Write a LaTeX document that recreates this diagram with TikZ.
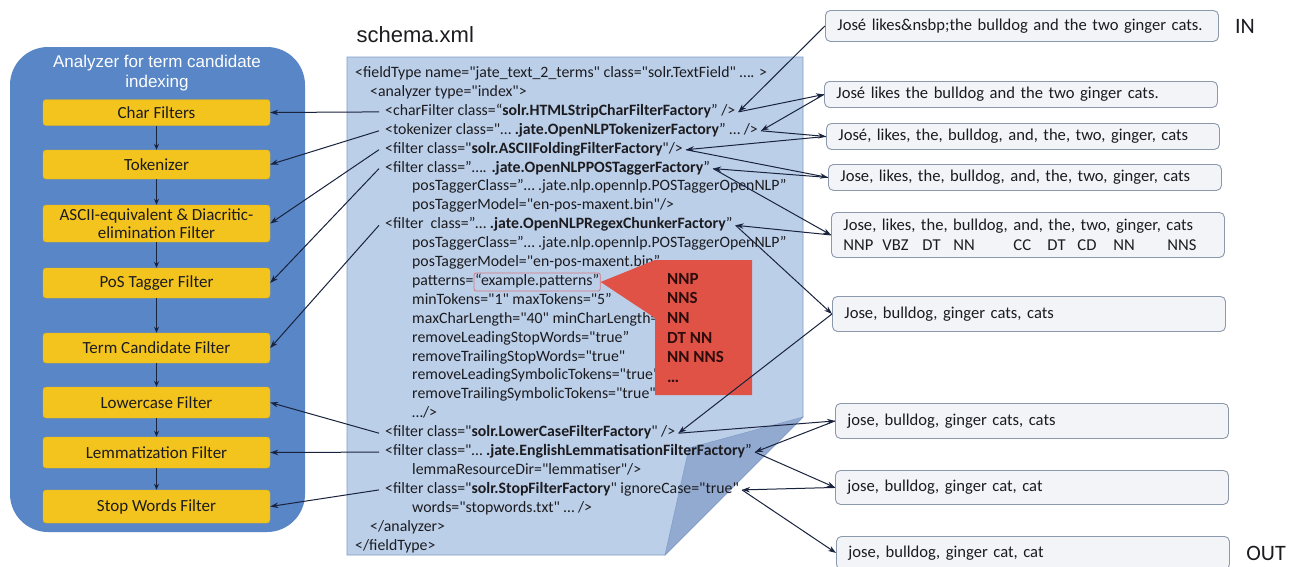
\documentclass[tikz,border=0pt]{standalone}
\usepackage{fontspec}
\setmainfont{Carlito}[Ligatures=TeXOff]
\newfontfamily\arialfont{Liberation Sans}
\usetikzlibrary{arrows.meta}
\definecolor{panelblue}{RGB}{88,134,198}
\definecolor{boxyellow}{RGB}{244,196,30}
\definecolor{boxedge}{RGB}{222,176,20}
\definecolor{pagefill}{RGB}{188,207,233}
\definecolor{pageline}{RGB}{128,156,198}
\definecolor{foldfill}{RGB}{146,170,208}
\definecolor{outfill}{RGB}{243,244,247}
\definecolor{outline}{RGB}{140,152,172}
\definecolor{calloutred}{RGB}{225,82,70}
\definecolor{pinkline}{RGB}{214,118,128}
\definecolor{arrowcol}{RGB}{25,35,62}
\definecolor{txtdark}{RGB}{28,28,32}
\definecolor{pattxt}{RGB}{45,12,12}
\begin{document}
\begin{tikzpicture}[x=1pt,y=-1pt,
  stage/.style={draw=boxedge, line width=0.4pt, fill=boxyellow, rounded corners=3pt,
    minimum width=227pt, align=center, text=txtdark,
    font=\fontsize{17}{18}\selectfont, inner sep=1pt},
  xml/.style={anchor=base west, inner xsep=3pt, inner ysep=0pt, text=txtdark,
    font=\fontsize{15.8}{17}\selectfont, execute at begin node=\strut},
  outbox/.style={draw=outline, line width=0.9pt, fill=outfill, rounded corners=5pt,
    anchor=north west, align=left, text width=369pt, inner xsep=12pt, inner ysep=2pt,
    text=txtdark, font=\fontsize{16.6}{20.5}\selectfont},
  conn/.style={draw=arrowcol, line width=1pt, -{Stealth[length=8pt,width=5.5pt]}},
  downarr/.style={draw=arrowcol, line width=1.2pt, -{Stealth[length=6pt,width=5pt]}},
  pattag/.style={font=\fontsize{17}{19}\selectfont\bfseries, text=pattxt, anchor=base west, inner sep=0pt},
  bigword/.style={font=\fontsize{22}{24}\selectfont, text=txtdark}
]
\useasboundingbox (0,0) rectangle (1296,566);
\fill[white] (0,0) rectangle (1296,566);

% ---------- left panel ----------
\fill[panelblue, rounded corners=38pt] (10,47) rectangle (305,532);
\node[font=\arialfont\fontsize{17}{20}\selectfont, text=white, align=center] (ptitle) at (157,73) {Analyzer for term candidate\\indexing};

\node[stage, minimum height=26pt] (cf)   at (156.5,112.5) {Char Filters};
\node[stage, minimum height=29pt] (tok)  at (156.5,164.5) {Tokenizer};
\node[stage, minimum height=37pt] (asc)  at (156.5,223.5) {ASCII-equivalent \& Diacritic-\\elimination Filter};
\node[stage, minimum height=30pt] (pos)  at (156.5,283)   {PoS Tagger Filter};
\node[stage, minimum height=30pt] (term) at (156.5,348)   {Term Candidate Filter};
\node[stage, minimum height=31pt] (low)  at (156.5,402.5) {Lowercase Filter};
\node[stage, minimum height=31pt] (lem)  at (156.5,452.5) {Lemmatization Filter};
\node[stage, minimum height=33pt] (stop) at (156.5,506.5) {Stop Words Filter};

\draw[downarr] (cf) -- (tok);
\draw[downarr] (tok) -- (asc);
\draw[downarr] (asc) -- (pos);
\draw[downarr] (pos) -- (term);
\draw[downarr] (term) -- (low);
\draw[downarr] (low) -- (lem);
\draw[downarr] (lem) -- (stop);

% ---------- schema page ----------
\node[font=\arialfont\fontsize{22}{24}\selectfont, text=txtdark, anchor=west] (schema) at (353,35) {schema.xml};
\filldraw[fill=pagefill, draw=pageline, line width=0.8pt] (347,57) -- (803,57) -- (803,417) -- (665,555) -- (347,555) -- cycle;
\filldraw[fill=foldfill, draw=pageline, line width=0.5pt] (803,417) -- (689,448) -- (665,555) -- cycle;

\node[xml] (l1)  at (352,77.5)  {<fieldType name="jate\_text\_2\_terms" class="solr.TextField" …. >};
\node[xml] (l2)  at (367,96.4)  {<analyzer type="index">};
\node[xml] (l3)  at (382,115.3) {<charFilter class=“\textbf{solr.HTMLStripCharFilterFactory}” />};
\node[xml] (l4)  at (382,134.2) {<tokenizer class="… \textbf{.jate.OpenNLPTokenizerFactory}” … />};
\node[xml] (l5)  at (382,153.1) {<filter class="\textbf{solr.ASCIIFoldingFilterFactory}"/>};
\node[xml] (l6)  at (382,172.0) {<filter class=”…. \textbf{.jate.OpenNLPPOSTaggerFactory}”};
\node[xml] (l7)  at (409,190.9) {posTaggerClass=”… .jate.nlp.opennlp.POSTaggerOpenNLP”};
\node[xml] (l8)  at (409,209.8) {posTaggerModel="en-pos-maxent.bin"/>};
\node[xml] (l9)  at (382,228.7) {<filter\ \ class=”… \textbf{.jate.OpenNLPRegexChunkerFactory}”};
\node[xml] (l10) at (409,247.6) {posTaggerClass=”… .jate.nlp.opennlp.POSTaggerOpenNLP”};
\node[xml] (l11) at (409,266.5) {posTaggerModel="en-pos-maxent.bin”};
\node[xml] (l12) at (409,285.4) {patterns=};
\node[xml, draw=pinkline, line width=0.8pt, rounded corners=2pt, inner xsep=1pt, inner ysep=0.5pt] (pat) at ([xshift=-3pt]l12.base east) {“example.patterns”};
\node[xml] (l13) at (409,304.3) {minTokens="1" maxTokens="5”};
\node[xml] (l14) at (409,323.2) {maxCharLength="40" minCharLength=};
\node[xml] (l15) at (409,342.1) {removeLeadingStopWords="true”};
\node[xml] (l16) at (409,361.0) {removeTrailingStopWords="true"};
\node[xml] (l17) at (409,379.9) {removeLeadingSymbolicTokens="true"};
\node[xml] (l18) at (409,398.8) {removeTrailingSymbolicTokens="true"};
\node[xml] (l19) at (409,417.7) {…/>};
\node[xml] (l20) at (382,436.6) {<filter class="\textbf{solr.LowerCaseFilterFactory}" />};
\node[xml] (l21) at (382,455.5) {<filter class="… \textbf{.jate.EnglishLemmatisationFilterFactory}”};
\node[xml] (l22) at (409,474.4) {lemmaResourceDir="lemmatiser"/>};
\node[xml] (l23) at (382,493.3) {<filter class="\textbf{solr.StopFilterFactory}" ignoreCase="true"};
\node[xml] (l24) at (409,512.2) {words="stopwords.txt" … />};
\node[xml] (l25) at (367,531.1) {</analyzer>};
\node[xml] (l26) at (352,550.0) {</fieldType>};

% ---------- callout ----------
\fill[calloutred] (655,260) -- (752,260) -- (752,395) -- (655,395) -- (655,318) -- (pat.east) -- cycle;
\node[pattag] (p1) at (667,284) {NNP};
\node[pattag] (p2) at (667,303) {NNS};
\node[pattag] (p3) at (667,323) {NN};
\node[pattag] (p4) at (667,343) {DT NN};
\node[pattag] (p5) at (667,362) {NN NNS};
\node[pattag] (p6) at (667,382) {…};

% ---------- right boxes ----------
\node[outbox, minimum height=31pt] (b1) at (825,10)  {José likes\&nsbp;the bulldog and the two ginger cats.};
\node[outbox, minimum height=26pt] (b2) at (824,81)  {José likes the bulldog and the two ginger cats.};
\node[outbox, minimum height=26pt] (b3) at (826,123) {José, likes, the, bulldog, and, the, two, ginger, cats};
\node[outbox, minimum height=26pt] (b4) at (828,164) {Jose, likes, the, bulldog, and, the, two, ginger, cats};
\node[outbox, minimum height=45pt] (b5) at (831,212) {Jose, likes, the, bulldog, and, the, two, ginger, cats\\
  \makebox[39pt][l]{NNP}\makebox[40pt][l]{VBZ}\makebox[31pt][l]{DT}\makebox[60pt][l]{NN}\makebox[34pt][l]{CC}\makebox[30pt][l]{DT}\makebox[36pt][l]{CD}\makebox[54pt][l]{NN}NNS};
\node[outbox, minimum height=35pt] (b6) at (832,296) {Jose, bulldog, ginger cats, cats};
\node[outbox, minimum height=35pt] (b7) at (835,403) {jose, bulldog, ginger cats, cats};
\node[outbox, minimum height=34pt] (b8) at (835,470) {jose, bulldog, ginger cat, cat};
\node[outbox, minimum height=33pt] (b9) at (836,536) {jose, bulldog, ginger cat, cat};

\node[bigword] (inlab)  at (1245,26)  {IN};
\node[bigword] (outlab) at (1266,553) {OUT};

% ---------- connectors: XML -> stages ----------
\draw[conn] ([xshift=-3pt]l3.west)  -- (cf.east);
\draw[conn] ([xshift=-3pt]l4.west)  -- (tok.east);
\draw[conn] ([xshift=-3pt]l5.west)  -- (asc.east);
\draw[conn] ([xshift=-3pt]l6.west)  -- (pos.east);
\draw[conn] ([xshift=-3pt]l9.west)  -- (term.east);
\draw[conn] ([xshift=-3pt]l20.west) -- (low.east);
\draw[conn] ([xshift=-3pt]l21.west) -- (lem.east);
\draw[conn] ([xshift=-3pt]l23.west) -- (stop.east);

% ---------- connectors: boxes <-> XML ----------
\draw[conn] (b1.west) -- (l3.east);
\draw[conn] (l3.east) -- (b2.west);
\draw[conn] (b2.west) -- (l4.east);
\draw[conn] (l4.east) -- (b3.west);
\draw[conn] (b3.west) -- (l5.east);
\draw[conn] (l5.east) -- (b4.west);
\draw[conn] (b4.west) -- (l6.east);
\draw[conn] (l6.east) -- (b5.west);
\draw[conn] (b5.west) -- (l9.east);
\draw[conn] (l9.east) -- (b6.west);
\draw[conn] (b6.west) -- (l20.east);
\draw[conn] (l20.east) -- (b7.west);
\draw[conn] (b7.west) -- (l21.east);
\draw[conn] (l21.east) -- (b8.west);
\draw[conn] (b8.west) -- (l23.east);
\draw[conn] (l23.east) -- (b9.west);
\end{tikzpicture}
\end{document}
